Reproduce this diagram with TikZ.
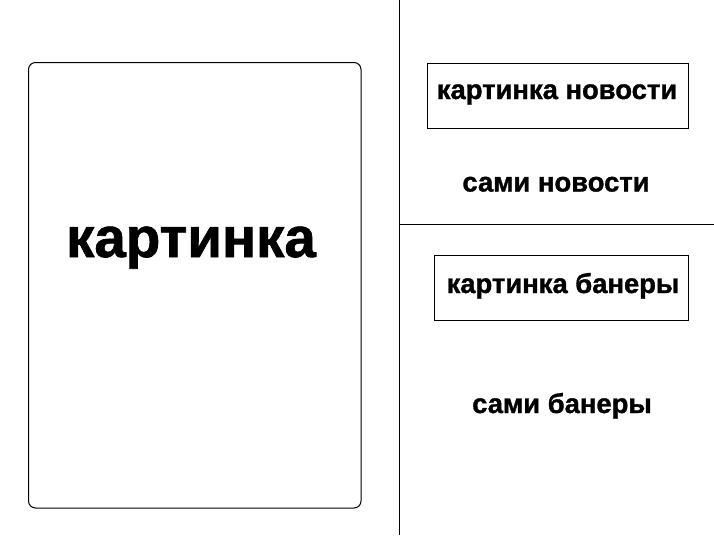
\documentclass[tikz,border=0pt]{standalone}
\usepackage{fontspec}
\setmainfont{Liberation Sans}
\newfontfamily\heavy{Liberation Sans Bold}[FakeBold=1.2]
\begin{document}
\begin{tikzpicture}[x=1pt,y=-1pt,line width=1pt,
  smalltext/.style={font=\fontsize{27.4}{30}\heavy, inner sep=0pt, anchor=base},
  bigtext/.style={font=\fontsize{56.5}{60}\heavy, inner sep=0pt, anchor=base},
  framebox/.style={draw}]
\useasboundingbox (0,0) rectangle (714,535);
\fill[white] (0,0) rectangle (714,535);
\draw[rounded corners=7pt] (28.5,62.5) rectangle (361,508);
\node[bigtext] (pic) at (191,257) {картинка};
\coordinate (vtop) at (399.5,0);
\coordinate (vbot) at (399.5,535);
\draw (vtop) -- (vbot);
\coordinate (hl) at (399.5,224);
\coordinate (hr) at (714,224);
\draw (hl) -- (hr);
\draw[framebox] (427.5,63.5) rectangle (688.5,128.5);
\node[smalltext] (picnews) at (557,99) {картинка новости};
\node[smalltext] (news) at (556,191.5) {сами новости};
\draw[framebox] (434.5,255) rectangle (688.5,320);
\node[smalltext] (picban) at (563,293) {картинка банеры};
\node[smalltext] (ban) at (562,413) {сами банеры};
\end{tikzpicture}
\end{document}
